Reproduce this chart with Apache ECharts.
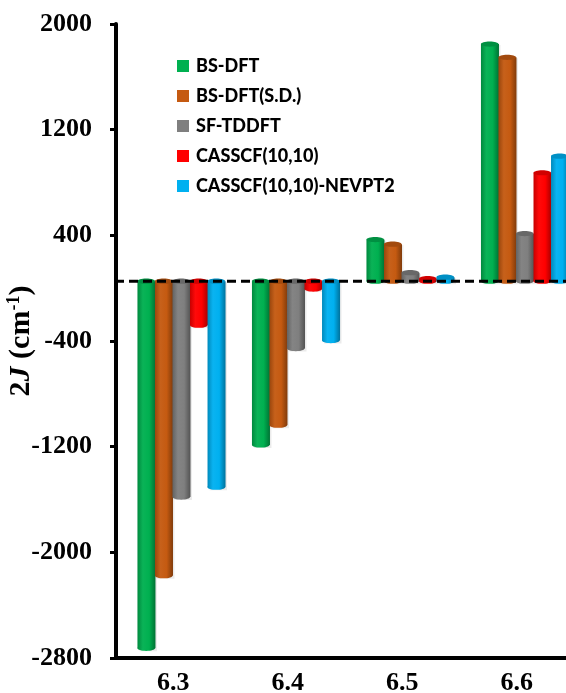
<!DOCTYPE html>
<html>
<head>
<meta charset="utf-8">
<script src="https://cdn.jsdelivr.net/npm/echarts@6/dist/echarts.min.js"></script>
<style>
  html, body { margin: 0; padding: 0; background: #fff; }
  #chart { width: 566px; height: 693px; }
</style>
</head>
<body>
<div id="chart"></div>
<script>
// Exchange coupling 2J (cm^-1) for four structures, five methods
const categories = ['6.3', '6.4', '6.5', '6.6'];
const methodNames = ['BS-DFT', 'BS-DFT(S.D.)', 'SF-TDDFT', 'CASSCF(10,10)', 'CASSCF(10,10)-NEVPT2'];
const bsDft     = [-2780, -1240, 315, 1795];
const bsDftSD   = [-2230, -1090, 280, 1695];
const sfTddft   = [-1635,  -510,  64,  360];
const casscf    = [ -333,   -60,  19,  821];
const nevpt2    = [-1560,  -450,  30,  946];
const yMin = -2800, yMax = 2000, yStep = 800;

const methodValues = [bsDft, bsDftSD, sfTddft, casscf, nevpt2];
const palette = ['#00B050', '#C55A11', '#7F7F7F', '#FF0000', '#00B0F0'];

// cylinder look: width of one bar as a share of the category band,
// a small depth shift of the bar plane, and the flattened end caps
const BAR_FRAC = 0.153;
const DEPTH = [8, -7];
const CAP_RY = 2.6;

function mix(hex, target, t) {
  const n = parseInt(hex.slice(1), 16);
  const r = (n >> 16) & 255, g = (n >> 8) & 255, b = n & 255;
  const m = c => Math.round(c + (target - c) * t);
  return 'rgb(' + m(r) + ',' + m(g) + ',' + m(b) + ')';
}

function bodyGradient(c) {
  return new echarts.graphic.LinearGradient(0, 0, 1, 0, [
    { offset: 0, color: mix(c, 0, 0.22) },
    { offset: 0.3, color: mix(c, 255, 0.04) },
    { offset: 0.65, color: c },
    { offset: 1, color: mix(c, 0, 0.35) }
  ]);
}

function renderCylinder(params, api) {
  const cat = api.value(0);
  const val = api.value(1);
  const band = api.size([1, 0])[0];
  const base = api.coord([cat, 0]);
  const tip = api.coord([cat, val]);
  const w = band * BAR_FRAC;
  const x = base[0] - band * BAR_FRAC * 2.5 + params.seriesIndex * w + DEPTH[0];
  const yBase = base[1] + DEPTH[1];
  const yTip = tip[1] + DEPTH[1];
  const top = Math.min(yBase, yTip);
  const bottom = Math.max(yBase, yTip);
  const c = palette[params.seriesIndex];
  const fill = bodyGradient(c);
  const rx = w / 2, cx = x + rx;
  return {
    type: 'group',
    children: [
      { type: 'rect', shape: { x: x + 2, y: top + 1, width: w, height: bottom - top + 2 },
        style: { fill: 'rgba(0,0,0,0.08)' } },
      { type: 'ellipse', shape: { cx: cx, cy: bottom, rx: rx, ry: CAP_RY }, style: { fill: fill } },
      { type: 'rect', shape: { x: x, y: top, width: w + 0.5, height: bottom - top }, style: { fill: fill } },
      { type: 'ellipse', shape: { cx: cx, cy: top, rx: rx, ry: CAP_RY },
        style: { fill: mix(c, 0, 0.18) } }
    ]
  };
}

function renderZeroLine(params, api) {
  const y = api.coord([0, 0])[1] + DEPTH[1];
  const cs = params.coordSys;
  return {
    type: 'line',
    shape: { x1: cs.x - 1, y1: y, x2: cs.x + cs.width, y2: y },
    style: { stroke: '#000', lineWidth: 3, lineDash: [9, 5] }
  };
}

const serif = 'Liberation Serif';
const series = methodNames.map((name, i) => ({
  name: name,
  type: 'custom',
  renderItem: renderCylinder,
  itemStyle: { color: palette[i] },
  encode: { x: 0, y: 1 },
  data: methodValues[i].map((v, k) => [k, v]),
  clip: false,
  z: 2
}));
series.push({
  name: 'baseline',
  type: 'custom',
  renderItem: renderZeroLine,
  data: [[0, 0]],
  silent: true,
  clip: false,
  z: 5
});

const chart = echarts.init(document.getElementById('chart'), null, { renderer: 'canvas' });
chart.setOption({
  animation: false,
  color: palette,
  grid: { left: 116, right: -8, top: 24, bottom: 35, outerBoundsMode: 'none', containLabel: false },
  legend: {
    data: methodNames,
    orient: 'vertical',
    left: 172,
    top: 51,
    icon: 'rect',
    itemWidth: 12,
    itemHeight: 12,
    itemGap: 10,
    textStyle: {
      fontFamily: 'Lato', fontWeight: 900, fontSize: 18, color: '#000',
      lineHeight: 20, padding: [0, 0, 0, 2]
    }
  },
  xAxis: {
    type: 'category',
    data: categories,
    axisLine: { onZero: false, lineStyle: { color: '#000', width: 4 } },
    axisTick: { show: false },
    axisLabel: { fontFamily: serif, fontWeight: 'bold', fontSize: 26, color: '#000', margin: 12 }
  },
  yAxis: {
    type: 'value',
    min: yMin,
    max: yMax,
    interval: yStep,
    name: '{n|2}{j|J}{n| (cm}{s|-1}{n|)}',
    nameLocation: 'middle',
    nameRotate: 90,
    nameGap: 78,
    nameMoveOverlap: false,
    nameTextStyle: {
      rich: {
        n: { fontFamily: serif, fontWeight: 'bold', fontSize: 30, color: '#000' },
        j: { fontFamily: serif, fontWeight: 'bold', fontStyle: 'italic', fontSize: 30, color: '#000' },
        s: { fontFamily: serif, fontWeight: 'bold', fontSize: 18, color: '#000', padding: [0, 0, 15, 0] }
      }
    },
    axisLine: { show: true, lineStyle: { color: '#000', width: 4 } },
    axisTick: { show: true, length: 6, lineStyle: { color: '#000', width: 3 } },
    splitLine: { show: false },
    axisLabel: {
      fontFamily: serif, fontWeight: 'bold', fontSize: 26, color: '#000', margin: 24,
      formatter: v => String(v)
    }
  },
  series: series
});
</script>
</body>
</html>
